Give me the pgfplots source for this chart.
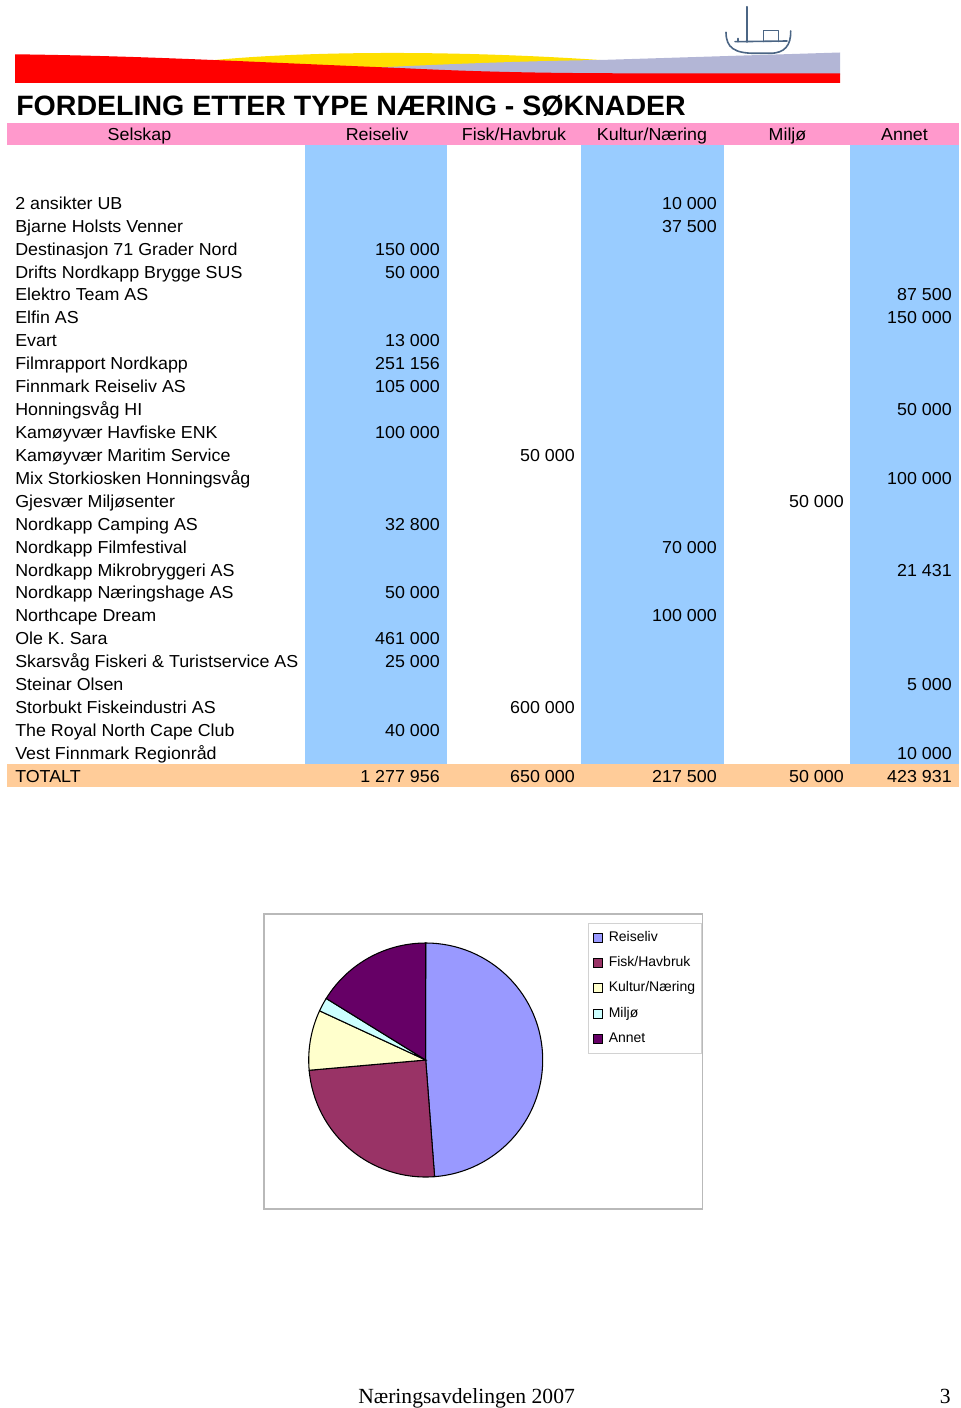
\documentclass[border=0pt]{standalone}
\usepackage{pgfplots}
\usepackage{pgfplotstable}
\pgfplotsset{compat=1.18}
\usepackage{fontspec}
\setmainfont{Liberation Sans}
\newfontfamily\tabfont{Liberation Sans}[FakeStretch=1.03]
\newfontfamily\titlefont{Liberation Sans}[FakeStretch=1.02]
\newfontfamily\timesfont{Liberation Serif}

\definecolor{hdrpink}{HTML}{FF99CC}
\definecolor{colblue}{HTML}{99CCFF}
\definecolor{totorange}{HTML}{FFCC99}
\definecolor{logored}{HTML}{FF0000}
\definecolor{logoyellow}{HTML}{FFE000}
\definecolor{logogray}{HTML}{B3B6D6}
\definecolor{boatc}{HTML}{4B6584}
\definecolor{reise}{HTML}{9999FF}
\definecolor{fisk}{HTML}{993366}
\definecolor{kultur}{HTML}{FFFFCC}
\definecolor{miljo}{HTML}{CCFFFF}
\definecolor{annet}{HTML}{660066}

% totals per category, in thousand NOK
\pgfplotstableread{
cat value
Reiseliv 1277.956
Fisk 650.000
Kultur 217.500
Miljo 50.000
Annet 423.931
}\piedata

\newcommand\rowy[1]{209.3+(#1-1)*22.92}
\newcommand\trow[4]{%
  \node[anchor=base west, inner sep=0pt] at (15,{\rowy{#1}}) {#2};
  \node[anchor=base east, inner sep=0pt] at (#3,{\rowy{#1}}) {#4};}

\begin{document}
\begin{tikzpicture}
\begin{scope}[x=0.75pt, y=-0.75pt]
\path[use as bounding box] (0,0) rectangle (960,1408);
% ---- logo banner
\fill[logoyellow] (205,61) .. controls (300,51) and (450,50) .. (600,60) -- (600,75) -- (205,75) -- cycle;
\fill[logogray] (330,70) .. controls (420,65) and (520,61) .. (600,60) -- (840,52.5) -- (840,75) -- (330,75) -- cycle;
\fill[logored] (15,54.3) .. controls (150,56) and (250,62) .. (400,68) .. controls (480,72) and (550,73.3) .. (640,73.3) -- (840,73.3) -- (840,83) -- (15,83) -- cycle;
\begin{scope}[draw=boatc, line width=1.2pt, line cap=round, line join=round]
\draw (746.7,6.7) -- (746.7,42);
\draw (726,32.3) .. controls (726,48) and (735,53.3) .. (755,53.3) -- (770,53.3) .. controls (785,53.3) and (791,45) .. (790.7,31);
\draw (735,41.7) -- (787,41);
\draw (763.3,41.5) -- (763.3,30.7) -- (778.3,30.7) -- (778.3,41.5);
\draw (738,38.5) -- (738,41.7);
\end{scope}
% ---- title
\node[anchor=base west, inner sep=0pt] at (16,116) {\titlefont\bfseries\fontsize{21pt}{24pt}\selectfont FORDELING ETTER TYPE NÆRING - SØKNADER};
% ---- table backgrounds
\fill[hdrpink] (7.3,122.7) rectangle (959,145);
\fill[colblue] (305.3,145) rectangle (447.3,764);
\fill[colblue] (580.7,145) rectangle (723.7,764);
\fill[colblue] (850,145) rectangle (959,764);
\fill[totorange] (7.3,764) rectangle (959,786.7);
% ---- header
\begin{scope}[every node/.style={anchor=base, inner sep=0pt, font=\tabfont\fontsize{13pt}{15pt}\selectfont}]
\node at (139.5,140.7) {Selskap};
\node at (377,140.7) {Reiseliv};
\node at (514,140.7) {Fisk/Havbruk};
\node at (652,140.7) {Kultur/Næring};
\node at (787.5,140.7) {Miljø};
\node at (904.5,140.7) {Annet};
\end{scope}
% ---- rows
\begin{scope}[every node/.append style={font=\tabfont\fontsize{13pt}{15pt}\selectfont}]
\trow{1}{2 ansikter UB}{717}{10 000}
\trow{2}{Bjarne Holsts Venner}{717}{37 500}
\trow{3}{Destinasjon 71 Grader Nord}{440}{150 000}
\trow{4}{Drifts Nordkapp Brygge SUS}{440}{50 000}
\trow{5}{Elektro Team AS}{952}{87 500}
\trow{6}{Elfin AS}{952}{150 000}
\trow{7}{Evart}{440}{13 000}
\trow{8}{Filmrapport Nordkapp}{440}{251 156}
\trow{9}{Finnmark Reiseliv AS}{440}{105 000}
\trow{10}{Honningsvåg HI}{952}{50 000}
\trow{11}{Kamøyvær Havfiske ENK}{440}{100 000}
\trow{12}{Kamøyvær Maritim Service}{575}{50 000}
\trow{13}{Mix Storkiosken Honningsvåg}{952}{100 000}
\trow{14}{Gjesvær Miljøsenter}{844}{50 000}
\trow{15}{Nordkapp Camping AS}{440}{32 800}
\trow{16}{Nordkapp Filmfestival}{717}{70 000}
\trow{17}{Nordkapp Mikrobryggeri AS}{952}{21 431}
\trow{18}{Nordkapp Næringshage AS}{440}{50 000}
\trow{19}{Northcape Dream}{717}{100 000}
\trow{20}{Ole K. Sara}{440}{461 000}
\trow{21}{Skarsvåg Fiskeri \& Turistservice AS}{440}{25 000}
\trow{22}{Steinar Olsen}{952}{5 000}
\trow{23}{Storbukt Fiskeindustri AS}{575}{600 000}
\trow{24}{The Royal North Cape Club}{440}{40 000}
\trow{25}{Vest Finnmark Regionråd}{952}{10 000}
\node[anchor=base west, inner sep=0pt] at (15,782.7) {TOTALT};
\node[anchor=base east, inner sep=0pt] at (440,782.7) {1 277 956};
\node[anchor=base east, inner sep=0pt] at (575,782.7) {650 000};
\node[anchor=base east, inner sep=0pt] at (717,782.7) {217 500};
\node[anchor=base east, inner sep=0pt] at (844,782.7) {50 000};
\node[anchor=base east, inner sep=0pt] at (952,782.7) {423 931};
\end{scope}
% ---- chart frame
\draw[gray!55, line width=1pt] (264,914) rectangle (702.7,1209);
% ---- footer
\node[anchor=base west, inner sep=0pt] at (358,1403) {\timesfont\fontsize{16.2pt}{18pt}\selectfont Næringsavdelingen 2007};
\node[anchor=base east, inner sep=0pt] at (951,1403) {\timesfont\fontsize{16.2pt}{18pt}\selectfont 3};
\end{scope}
% ---- pie
\pgfplotstablegetelem{0}{value}\of\piedata\let\vA\pgfplotsretval
\pgfplotstablegetelem{1}{value}\of\piedata\let\vB\pgfplotsretval
\pgfplotstablegetelem{2}{value}\of\piedata\let\vC\pgfplotsretval
\pgfplotstablegetelem{3}{value}\of\piedata\let\vD\pgfplotsretval
\pgfplotstablegetelem{4}{value}\of\piedata\let\vE\pgfplotsretval
\pgfmathsetmacro\T{\vA+\vB+\vC+\vD+\vE}
\pgfmathsetmacro\aA{90}
\pgfmathsetmacro\aB{\aA-\vA/\T*360}
\pgfmathsetmacro\aC{\aB-\vB/\T*360}
\pgfmathsetmacro\aD{\aC-\vC/\T*360}
\pgfmathsetmacro\aE{\aD-\vD/\T*360}
\pgfmathsetmacro\aF{\aE-\vE/\T*360}
\begin{axis}[
  at={(319.275pt,-795pt)}, anchor=origin,
  hide axis, scale only axis,
  width=175.5pt, height=175.5pt,
  xmin=-1, xmax=1, ymin=-1, ymax=1,
  clip=false,
  legend image code/.code={\draw[#1, line width=0.6pt] (0pt,-3.4pt) rectangle (6.75pt,3.4pt); \path (9.5pt,0pt);},
  legend cell align=left,
  legend style={at={(rel axis cs:1.1935,1.0855)}, anchor=north west,
    draw=gray!35, line width=0.8pt, fill=white,
    font=\fontsize{10.5pt}{12pt}\selectfont,
    inner xsep=3pt, inner ysep=3.6pt, row sep=5pt,
    nodes={text height=7.6pt, text depth=2.4pt}},
]
\fill[fill=reise, draw=black, line width=0.8pt] (axis cs:0,0) -- (axis cs:{cos(\aA)},{sin(\aA)}) arc[start angle=\aA, end angle=\aB, radius=87.75pt] -- cycle;
\fill[fill=fisk, draw=black, line width=0.8pt] (axis cs:0,0) -- (axis cs:{cos(\aB)},{sin(\aB)}) arc[start angle=\aB, end angle=\aC, radius=87.75pt] -- cycle;
\fill[fill=kultur, draw=black, line width=0.8pt] (axis cs:0,0) -- (axis cs:{cos(\aC)},{sin(\aC)}) arc[start angle=\aC, end angle=\aD, radius=87.75pt] -- cycle;
\fill[fill=miljo, draw=black, line width=0.8pt] (axis cs:0,0) -- (axis cs:{cos(\aD)},{sin(\aD)}) arc[start angle=\aD, end angle=\aE, radius=87.75pt] -- cycle;
\fill[fill=annet, draw=black, line width=0.8pt] (axis cs:0,0) -- (axis cs:{cos(\aE)},{sin(\aE)}) arc[start angle=\aE, end angle=\aF, radius=87.75pt] -- cycle;
\addlegendimage{fill=reise, draw=black}
\addlegendentry{Reiseliv}
\addlegendimage{fill=fisk, draw=black}
\addlegendentry{Fisk/Havbruk}
\addlegendimage{fill=kultur, draw=black}
\addlegendentry{Kultur/Næring}
\addlegendimage{fill=miljo, draw=black}
\addlegendentry{Miljø}
\addlegendimage{fill=annet, draw=black}
\addlegendentry{Annet}
\end{axis}
\end{tikzpicture}
\end{document}
